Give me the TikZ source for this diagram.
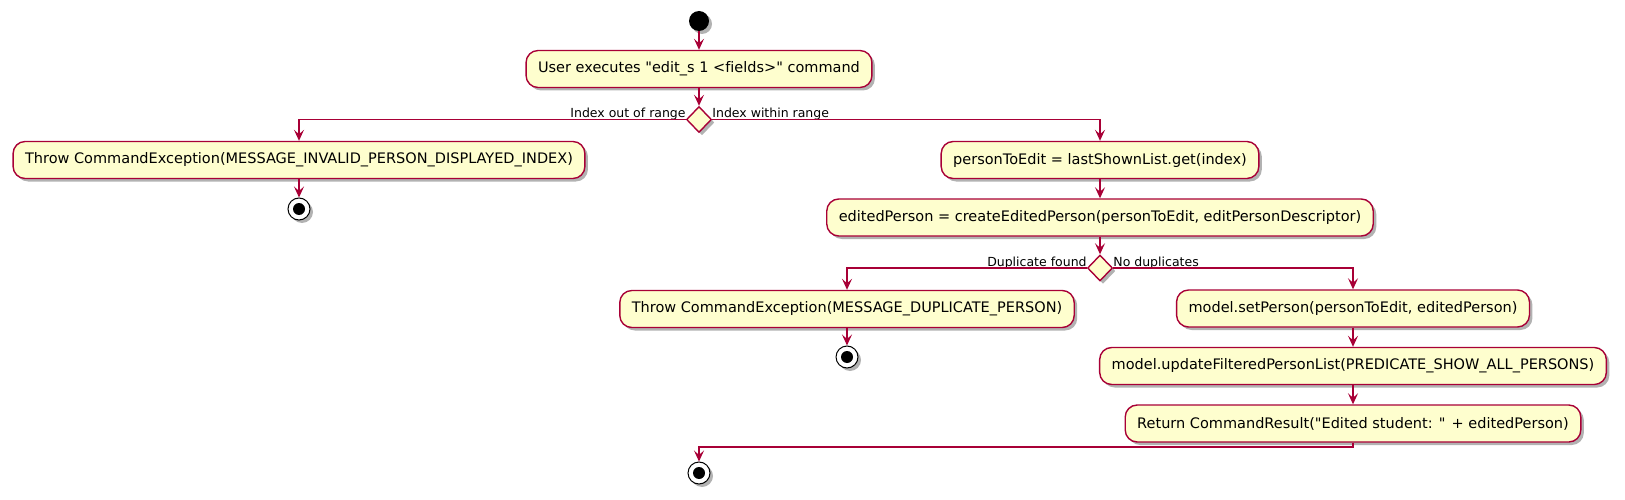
\documentclass[tikz,border=0pt]{standalone}
\usepackage{fontspec}
\setmainfont{DejaVu Sans}[Ligatures=NoCommon]
\usepackage{xcolor}
\usepackage{tikz}
\usetikzlibrary{arrows.meta,shapes.geometric,shadows}
\definecolor{umlred}{HTML}{A80036}
\definecolor{umlfill}{HTML}{FEFECE}

\begin{document}
\begin{tikzpicture}[
    x=1pt, y=-1pt,
    umlshadow/.style={drop shadow={shadow xshift=3pt, shadow yshift=-3pt, opacity=0.3, fill=black}},
    act/.style={rectangle, rounded corners=12pt, draw=umlred, line width=1.4pt, fill=umlfill,
        minimum height=37pt, inner xsep=12pt, font=\fontsize{14.5}{17}\selectfont, umlshadow},
    decide/.style={diamond, draw=umlred, line width=1.4pt, fill=umlfill, minimum width=25pt,
        minimum height=26pt, inner sep=0pt, umlshadow},
    startdot/.style={circle, fill=black, minimum size=20pt, inner sep=0pt, umlshadow},
    enddot/.style={circle, draw=black, line width=1pt, fill=white, minimum size=22pt, inner sep=0pt, umlshadow,
        path picture={\fill[black] (path picture bounding box.center) circle (6pt);}},
    flow/.style={draw=umlred, line width=1.1pt, -{Stealth[length=11pt, width=10pt, inset=4.5pt]}},
    lbl/.style={font=\fontsize{12.5}{15}\selectfont, inner sep=0pt}
]
\useasboundingbox (0,0) rectangle (1625,500);

\node [startdot] (start) at (699,21) {};
\node [act] (cmd) at (699,69) {User executes \textquotedbl edit\_s 1 <fields>\textquotedbl{} command};
\node [decide] (range) at (699,119.5) {};
\node [act] (invalid) at (299,160) {Throw CommandException(MESSAGE\_INVALID\_PERSON\_DISPLAYED\_INDEX)};
\node [enddot] (stopinvalid) at (299,209) {};
\node [act] (toedit) at (1100,160) {personToEdit = lastShownList.get(index)};
\node [act] (created) at (1100,217.5) {editedPerson = createEditedPerson(personToEdit, editPersonDescriptor)};
\node [decide] (dupcheck) at (1100,268) {};
\node [act] (duplicate) at (847,309) {Throw CommandException(MESSAGE\_DUPLICATE\_PERSON)};
\node [enddot] (stopduplicate) at (847,357) {};
\node [act] (setperson) at (1353,308.5) {model.setPerson(personToEdit, editedPerson)};
\node [act] (update) at (1353,366) {model.updateFilteredPersonList(PREDICATE\_SHOW\_ALL\_PERSONS)};
\node [act] (result) at (1353,423.5) {Return CommandResult(\textquotedbl Edited student: \textquotedbl{} + editedPerson)};
\coordinate (merge) at (699,447);
\node [enddot] (stop) at (699,473) {};

\node [lbl, anchor=base east] (outlbl) at ([yshift=2pt]range.west) {Index out of range};
\node [lbl, anchor=base west] (inlbl) at ([yshift=2pt]range.east) {Index within range};
\node [lbl, anchor=base east] (duplbl) at ([yshift=2pt]dupcheck.west) {Duplicate found};
\node [lbl, anchor=base west] (nodupslbl) at ([yshift=2pt]dupcheck.east) {No duplicates};

\draw [flow] (start) -- (cmd);
\draw [flow] (cmd) -- (range);
\draw [flow] (range.west) -| (invalid.north);
\draw [flow] (range.east) -| (toedit.north);
\draw [flow] (invalid) -- (stopinvalid);
\draw [flow] (toedit) -- (created);
\draw [flow] (created) -- (dupcheck);
\draw [flow] (dupcheck.west) -| (duplicate.north);
\draw [flow] (dupcheck.east) -| (setperson.north);
\draw [flow] (duplicate) -- (stopduplicate);
\draw [flow] (setperson) -- (update);
\draw [flow] (update) -- (result);
\draw [flow] (result.south) |- (merge) -- (stop);
\end{tikzpicture}
\end{document}
